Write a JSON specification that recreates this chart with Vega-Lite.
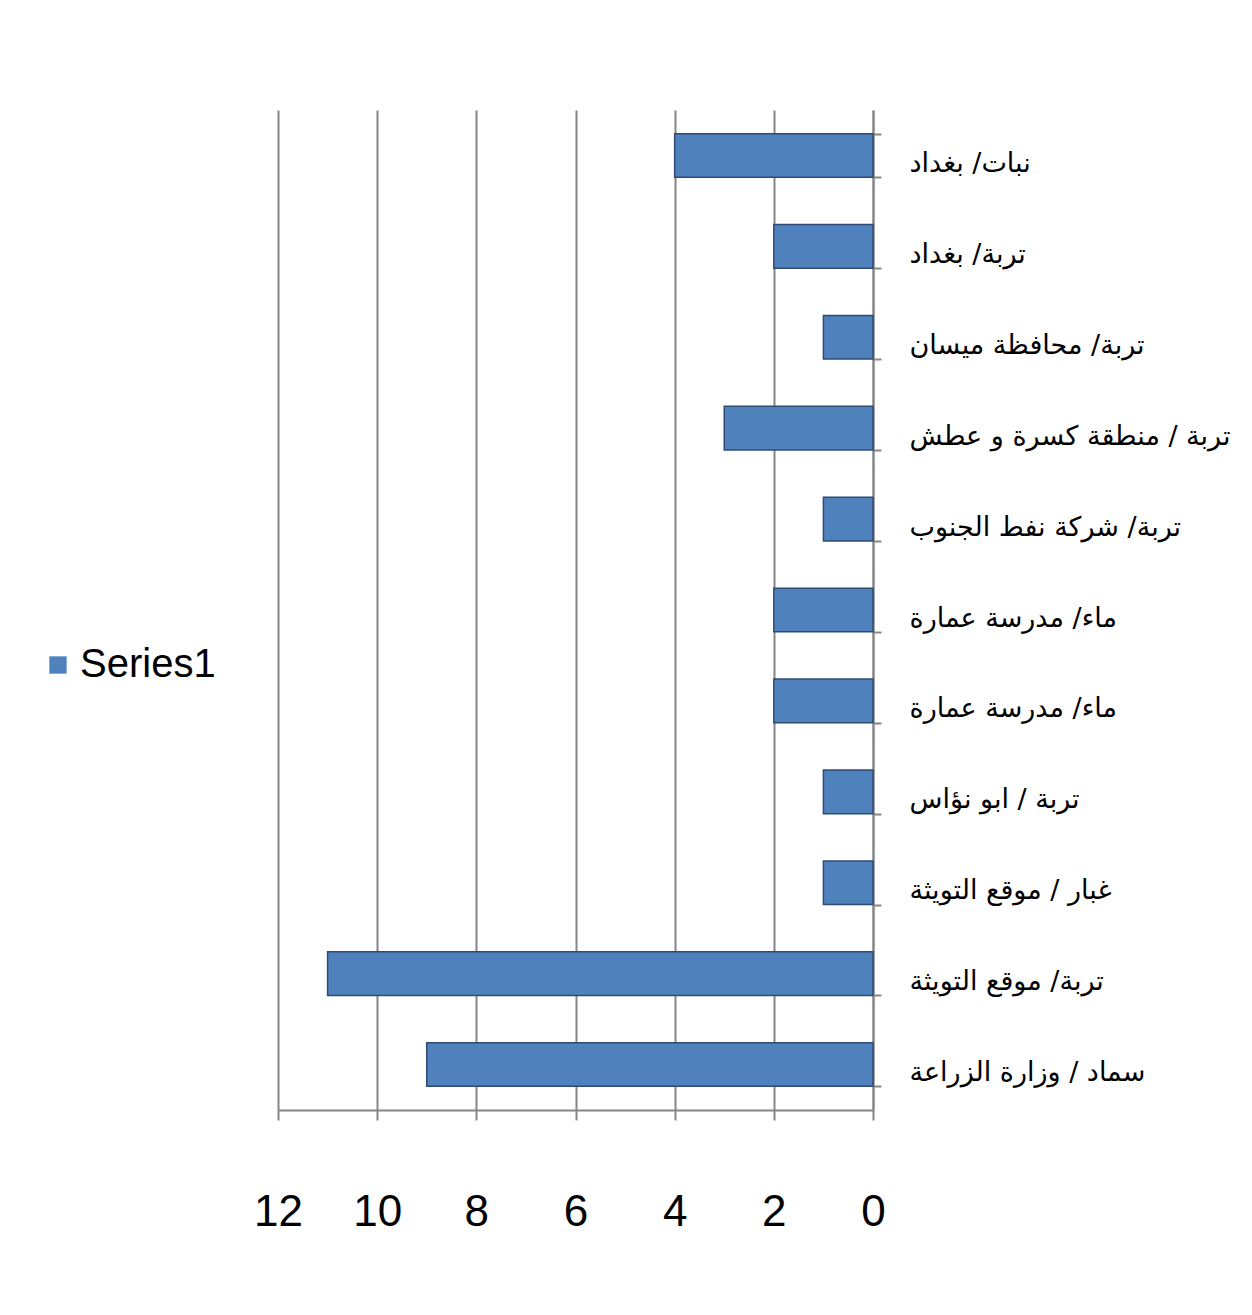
{
  "$schema": "https://vega.github.io/schema/vega-lite/v6.json",
  "autosize": "none",
  "width": 595,
  "height": 1000,
  "padding": {"left": 278, "top": 110, "right": 379, "bottom": 205},
  "background": "white",
  "data": {
    "values": [
      {"label": "نبات/ بغداد", "value": 4, "series": "Series1"},
      {"label": "تربة/ بغداد", "value": 2, "series": "Series1"},
      {"label": "تربة/ محافظة ميسان", "value": 1, "series": "Series1"},
      {"label": "تربة / منطقة كسرة و عطش", "value": 3, "series": "Series1"},
      {"label": "تربة/ شركة نفط الجنوب", "value": 1, "series": "Series1"},
      {"label": "ماء/ مدرسة عمارة", "value": 2, "series": "Series1"},
      {"label": "ماء/ مدرسة عمارة ", "value": 2, "series": "Series1"},
      {"label": "تربة / ابو نؤاس", "value": 1, "series": "Series1"},
      {"label": "غبار / موقع التويثة", "value": 1, "series": "Series1"},
      {"label": "تربة/ موقع التويثة", "value": 11, "series": "Series1"},
      {"label": "سماد / وزارة الزراعة", "value": 9, "series": "Series1"}
    ]
  },
  "mark": {"type": "bar", "stroke": "#2F4B73", "strokeWidth": 1.5},
  "encoding": {
    "y": {
      "field": "label",
      "type": "nominal",
      "sort": null,
      "title": null,
      "scale": {"paddingInner": 0.52, "paddingOuter": 0.26},
      "axis": {
        "orient": "right",
        "labelFont": "DejaVu Sans",
        "labelFontSize": 27,
        "labelColor": "#000000",
        "labelAlign": "left",
        "labelPadding": 28,
        "labelOffset": 8,
        "labelLimit": 340,
        "tickBand": "extent",
        "tickColor": "#868686",
        "tickWidth": 2,
        "tickSize": 8,
        "domainColor": "#868686",
        "domainWidth": 2,
        "grid": false
      }
    },
    "x": {
      "field": "value",
      "type": "quantitative",
      "title": null,
      "scale": {"domain": [0, 12], "reverse": true, "nice": false},
      "axis": {
        "values": [0, 2, 4, 6, 8, 10, 12],
        "labelFont": "Liberation Sans",
        "labelFontSize": 44,
        "labelColor": "#000000",
        "labelPadding": 70,
        "labelFlush": false,
        "labelOverlap": false,
        "labelBound": false,
        "tickColor": "#868686",
        "tickWidth": 2,
        "tickSize": 10,
        "domainColor": "#868686",
        "domainWidth": 2,
        "grid": true,
        "gridColor": "#868686",
        "gridWidth": 2
      }
    },
    "color": {
      "field": "series",
      "type": "nominal",
      "scale": {"range": ["#4F81BD"]},
      "legend": {
        "title": null,
        "orient": "none",
        "legendX": -240,
        "legendY": 535,
        "padding": 0,
        "symbolType": "square",
        "symbolSize": 300,
        "symbolStrokeWidth": 0,
        "labelOffset": 2,
        "labelFont": "Liberation Sans",
        "labelFontSize": 40,
        "labelColor": "#000000"
      }
    }
  },
  "config": {"view": {"stroke": null}}
}
